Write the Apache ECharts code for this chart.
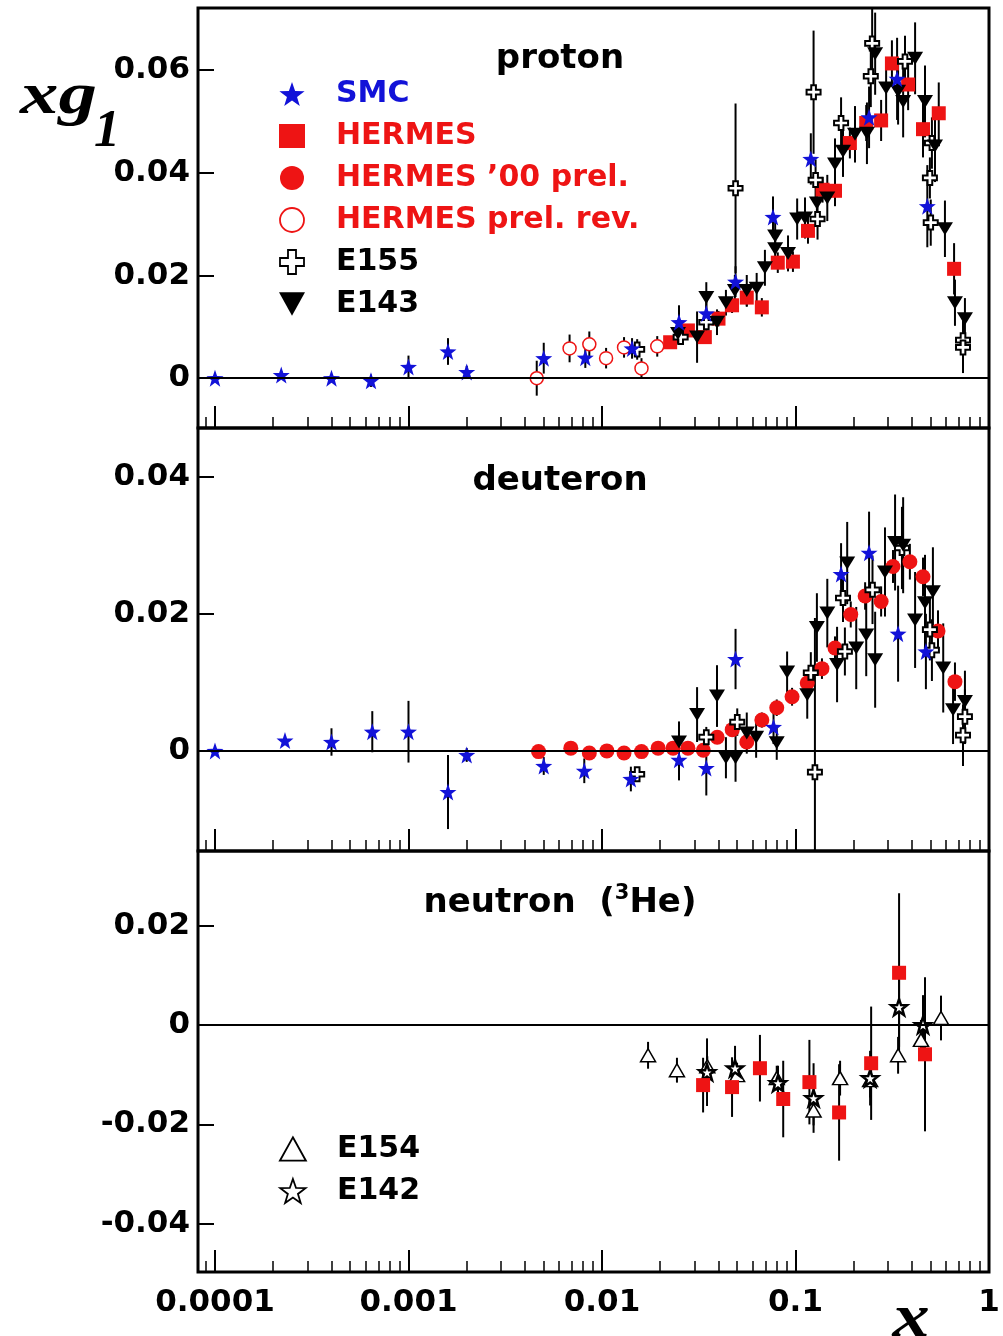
<!DOCTYPE html>
<html>
<head>
<meta charset="utf-8">
<script src="https://cdn.jsdelivr.net/npm/echarts@6/dist/echarts.min.js"></script>
<style>
  html, body { margin: 0; padding: 0; background: #fff; }
  #chart { width: 1003px; height: 1336px; }
</style>
</head>
<body>
<div id="chart"></div>
<script>
// xg1 structure-function data: each point is [x, xg1, stat. error]

// ---- proton ----
const protonSMC = [
  [0.0001, 0.0000, 0.0006], [0.00022, 0.0006, 0.0008], [0.0004, 0.0000, 0.0008],
  [0.00064, -0.0005, 0.0012], [0.001, 0.0022, 0.0022], [0.0016, 0.0052, 0.0026],
  [0.002, 0.0012, 0.0012], [0.005, 0.0039, 0.0030], [0.0082, 0.0040, 0.0020],
  [0.0143, 0.0058, 0.0020], [0.025, 0.0109, 0.0033], [0.0346, 0.0126, 0.0025],
  [0.049, 0.0188, 0.0030], [0.0765, 0.0314, 0.0040], [0.12, 0.0427, 0.0050],
  [0.24, 0.0508, 0.0060], [0.335, 0.0583, 0.0080], [0.48, 0.0335, 0.0080]
];
const protonHERMES = [
  [0.0225, 0.0070, 0.0010], [0.0278, 0.0093, 0.0012], [0.034, 0.0080, 0.0012],
  [0.040, 0.0116, 0.0015], [0.047, 0.0142, 0.0015], [0.056, 0.0157, 0.0018],
  [0.067, 0.0138, 0.0018], [0.081, 0.0225, 0.0020], [0.097, 0.0227, 0.0020],
  [0.116, 0.0287, 0.0025], [0.138, 0.0367, 0.0025], [0.16, 0.0365, 0.0030],
  [0.191, 0.0458, 0.0030], [0.232, 0.0497, 0.0035], [0.277, 0.0502, 0.0040],
  [0.315, 0.0613, 0.0045], [0.382, 0.0572, 0.0050], [0.456, 0.0485, 0.0055],
  [0.55, 0.0516, 0.0060], [0.66, 0.0213, 0.0050]
];
const protonPrelRev = [
  [0.0046, 0.0000, 0.0034], [0.0068, 0.0058, 0.0027], [0.0086, 0.0066, 0.0025],
  [0.0105, 0.0039, 0.0020], [0.013, 0.0060, 0.0020], [0.016, 0.0019, 0.0020],
  [0.0193, 0.0062, 0.0020]
];
const protonE155 = [
  [0.0152, 0.0056, 0.0020], [0.0255, 0.0080, 0.0015], [0.0346, 0.0109, 0.0020],
  [0.049, 0.0370, 0.0165], [0.124, 0.0557, 0.0120], [0.127, 0.0386, 0.0040],
  [0.13, 0.0310, 0.0040], [0.172, 0.0497, 0.0050], [0.249, 0.0652, 0.0070],
  [0.245, 0.0588, 0.0060], [0.368, 0.0617, 0.0050], [0.507, 0.0458, 0.0050],
  [0.495, 0.0390, 0.0040], [0.50, 0.0303, 0.0045], [0.734, 0.0074, 0.0040],
  [0.734, 0.0060, 0.0050]
];
const protonE143 = [
  [0.0247, 0.0087, 0.0020], [0.031, 0.0080, 0.0050], [0.0346, 0.0157, 0.0030],
  [0.0393, 0.0109, 0.0025], [0.0437, 0.0147, 0.0025], [0.0486, 0.0171, 0.0030],
  [0.056, 0.0171, 0.0030], [0.063, 0.0175, 0.0030], [0.0695, 0.0215, 0.0035],
  [0.0785, 0.0277, 0.0035], [0.0785, 0.0252, 0.0035], [0.0915, 0.0243, 0.0035],
  [0.102, 0.0310, 0.0040], [0.112, 0.0312, 0.0040], [0.129, 0.0341, 0.0045],
  [0.146, 0.0351, 0.0045], [0.16, 0.0417, 0.0050], [0.176, 0.0442, 0.0050],
  [0.203, 0.0475, 0.0055], [0.234, 0.0477, 0.0060], [0.258, 0.0632, 0.0080],
  [0.294, 0.0565, 0.0060], [0.339, 0.0559, 0.0065], [0.36, 0.0539, 0.0070],
  [0.415, 0.0623, 0.0070], [0.467, 0.0539, 0.0070], [0.526, 0.0452, 0.0070],
  [0.592, 0.0291, 0.0055], [0.667, 0.0147, 0.0045], [0.751, 0.0116, 0.0040]
];

// ---- deuteron ----
const deuteronSMC = [
  [0.0001, 0.0000, 0.0005], [0.00023, 0.0015, 0.0006], [0.0004, 0.0013, 0.0020],
  [0.00065, 0.0028, 0.0030], [0.001, 0.0028, 0.0045], [0.0016, -0.0060, 0.0054],
  [0.002, -0.0006, 0.0010], [0.005, -0.0022, 0.0013], [0.0081, -0.0029, 0.0018],
  [0.0141, -0.0041, 0.0018], [0.025, -0.0013, 0.0030], [0.0346, -0.0025, 0.0040],
  [0.049, 0.0134, 0.0044], [0.077, 0.0035, 0.0025], [0.172, 0.0258, 0.0045],
  [0.24, 0.0289, 0.0060], [0.339, 0.0171, 0.0070], [0.472, 0.0145, 0.0055]
];
const deuteronPrel = [
  [0.0047, -0.0001, 0.0007], [0.0069, 0.0004, 0.0007], [0.0086, -0.0003, 0.0007],
  [0.0106, 0.0000, 0.0006], [0.013, -0.0003, 0.0006], [0.016, -0.0001, 0.0006],
  [0.0195, 0.0004, 0.0006], [0.0233, 0.0004, 0.0006], [0.0278, 0.0004, 0.0007],
  [0.0334, 0.0001, 0.0007], [0.0394, 0.0020, 0.0008], [0.0471, 0.0031, 0.0009],
  [0.056, 0.0013, 0.0010], [0.067, 0.0045, 0.0011], [0.08, 0.0063, 0.0012],
  [0.096, 0.0079, 0.0013], [0.115, 0.0099, 0.0014], [0.137, 0.0120, 0.0015],
  [0.16, 0.0150, 0.0017], [0.193, 0.0199, 0.0019], [0.229, 0.0226, 0.0020],
  [0.277, 0.0218, 0.0022], [0.319, 0.0269, 0.0024], [0.39, 0.0276, 0.0026],
  [0.456, 0.0254, 0.0028], [0.545, 0.0175, 0.0030], [0.667, 0.0101, 0.0028]
];
const deuteronE155 = [
  [0.0152, -0.0034, 0.0010], [0.0346, 0.0020, 0.0015], [0.050, 0.0042, 0.0020],
  [0.12, 0.0114, 0.0030], [0.126, -0.0031, 0.0225], [0.176, 0.0223, 0.0035],
  [0.18, 0.0145, 0.0035], [0.25, 0.0235, 0.0050], [0.355, 0.0296, 0.0060],
  [0.495, 0.0177, 0.0045], [0.507, 0.0147, 0.0045], [0.751, 0.0050, 0.0040],
  [0.734, 0.0023, 0.0045]
];
const deuteronE143 = [
  [0.025, 0.0013, 0.0030], [0.031, 0.0053, 0.0040], [0.0393, 0.0080, 0.0045],
  [0.0437, -0.0010, 0.0030], [0.049, -0.0010, 0.0035], [0.056, 0.0026, 0.0030],
  [0.0626, 0.0020, 0.0030], [0.08, 0.0012, 0.0025], [0.0905, 0.0115, 0.0030],
  [0.115, 0.0082, 0.0035], [0.129, 0.0180, 0.0050], [0.146, 0.0201, 0.0050],
  [0.164, 0.0126, 0.0055], [0.185, 0.0274, 0.0060], [0.206, 0.0150, 0.0060],
  [0.232, 0.0169, 0.0060], [0.258, 0.0133, 0.0070], [0.29, 0.0261, 0.0065],
  [0.327, 0.0304, 0.0070], [0.36, 0.0300, 0.0070], [0.415, 0.0191, 0.0070],
  [0.467, 0.0216, 0.0070], [0.513, 0.0232, 0.0065], [0.58, 0.0121, 0.0065],
  [0.652, 0.0060, 0.0050], [0.751, 0.0072, 0.0045]
];

// ---- neutron (3He) ----
const neutronHERMES = [
  [0.0333, -0.0121, 0.0055], [0.047, -0.0125, 0.0060], [0.0655, -0.0087, 0.0067],
  [0.0864, -0.0149, 0.0077], [0.118, -0.0115, 0.0085], [0.168, -0.0176, 0.0097],
  [0.246, -0.0077, 0.0114], [0.343, 0.0105, 0.0160], [0.467, -0.0059, 0.0155]
];
const neutronE154 = [
  [0.0173, -0.0061, 0.0027], [0.0244, -0.0091, 0.0025], [0.035, -0.0083, 0.0020],
  [0.0499, -0.0101, 0.0025], [0.08, -0.0107, 0.0025], [0.124, -0.0172, 0.0030],
  [0.17, -0.0107, 0.0035], [0.243, -0.0111, 0.0035], [0.339, -0.0061, 0.0037],
  [0.445, -0.0030, 0.0040], [0.565, 0.0014, 0.0045]
];
const neutronE142 = [
  [0.0349, -0.0095, 0.0068], [0.0487, -0.0087, 0.0045], [0.0812, -0.0117, 0.0035],
  [0.124, -0.0147, 0.0070], [0.243, -0.0107, 0.0055], [0.343, 0.0036, 0.0080],
  [0.456, 0.0000, 0.0060]
];

// axis ticks and labels
const xMajorTicks = [0.0001, 0.001, 0.01, 0.1, 1];
const xMinorTicks = [0.00009].concat(
  xMajorTicks.slice(0, -1).flatMap(d => [2, 3, 4, 5, 6, 7, 8, 9].map(k => +(k * d).toPrecision(3)))
);
const yTicksProton = [0, 0.02, 0.04, 0.06];
const yTicksDeuteron = [0, 0.02, 0.04];
const yTicksNeutron = [-0.04, -0.02, 0, 0.02];

const panelTitles = ['proton', 'deuteron', '{a|neutron  (}{s|3}{a|He)}'];

// ---- styling ----
const BLUE = '#1212d8';
const RED = '#ee1414';
const STAR = 'path://M0,-10L2.35,-3.24L9.51,-3.09L3.8,1.24L5.88,8.09L0,4L-5.88,8.09L-3.8,1.24L-9.51,-3.09L-2.35,-3.24Z';
const CROSS = 'path://M-1,-3L1,-3L1,-1L3,-1L3,1L1,1L1,3L-1,3L-1,1L-3,1L-3,-1L-1,-1Z';
const TRI_DOWN = 'path://M0,0L10,0L5,9Z';
const TRI_UP = 'path://M5,0L10,9L0,9Z';

const markerStyles = {
  'SMC': { symbol: STAR, symbolSize: 17, itemStyle: { color: BLUE, opacity: 1 } },
  'HERMES': { symbol: 'rect', symbolSize: 14, itemStyle: { color: RED, opacity: 1 } },
  'HERMES \u201900 prel.': { symbol: 'circle', symbolSize: 15, itemStyle: { color: RED, opacity: 1 } },
  'HERMES prel. rev.': { symbol: 'circle', symbolSize: 13, itemStyle: { color: '#fff', borderColor: RED, borderWidth: 1.5, opacity: 1 } },
  'E155': { symbol: CROSS, symbolSize: 14, itemStyle: { color: '#fff', borderColor: '#000', borderWidth: 2, opacity: 1 } },
  'E143': { symbol: TRI_DOWN, symbolSize: [16, 13], itemStyle: { color: '#000', opacity: 1 } },
  'E154': { symbol: TRI_UP, symbolSize: [15, 13], itemStyle: { color: '#fff', borderColor: '#000', borderWidth: 1.5, opacity: 1 } },
  'E142': { symbol: STAR, symbolSize: 16, itemStyle: { color: '#fff', borderColor: '#000', borderWidth: 2.5, opacity: 1 } }
};

const panels = [
  { top: 8, height: 420, ymin: -0.0097, ymax: 0.0721, yTicks: yTicksProton, titleY: 59,
    sets: [['HERMES', protonHERMES], ['HERMES prel. rev.', protonPrelRev], ['E155', protonE155],
           ['E143', protonE143], ['SMC', protonSMC]] },
  { top: 428, height: 423, ymin: -0.0146, ymax: 0.0471, yTicks: yTicksDeuteron, titleY: 481,
    sets: [['HERMES \u201900 prel.', deuteronPrel], ['E155', deuteronE155],
           ['E143', deuteronE143], ['SMC', deuteronSMC]] },
  { top: 851, height: 421, ymin: -0.0497, ymax: 0.035, yTicks: yTicksNeutron, titleY: 903,
    sets: [['E154', neutronE154], ['E142', neutronE142], ['HERMES', neutronHERMES]] }
];

const GRID_LEFT = 198, GRID_WIDTH = 791;
const X_MIN = 0.0000817, X_MAX = 1;
const TICK_FONT = { fontFamily: 'DejaVu Sans', fontWeight: 'bold', fontSize: 31, color: '#000' };

const grid = [], xAxis = [], yAxis = [], series = [];

panels.forEach((p, i) => {
  grid.push({ left: GRID_LEFT, width: GRID_WIDTH, top: p.top, height: p.height,
              show: true, borderColor: '#000', borderWidth: 3, backgroundColor: 'transparent' });

  // decade ticks (with labels on the lowest panel)
  xAxis.push({
    type: 'log', logBase: 10, gridIndex: i, min: X_MIN, max: X_MAX, position: 'bottom',
    axisLine: { show: false, onZero: false }, splitLine: { show: false },
    axisTick: { inside: true, length: 22, lineStyle: { color: '#000', width: 2 }, customValues: xMajorTicks },
    axisLabel: i === 2
      ? Object.assign({ show: true, margin: 15, customValues: xMajorTicks, formatter: v => String(v) }, TICK_FONT)
      : { show: false }
  });
  // sub-decade ticks
  xAxis.push({
    type: 'log', logBase: 10, gridIndex: i, min: X_MIN, max: X_MAX, position: 'bottom',
    axisLine: { show: false, onZero: false }, splitLine: { show: false },
    axisTick: { inside: true, length: 11, lineStyle: { color: '#000', width: 1.5 }, customValues: xMinorTicks },
    axisLabel: { show: false }
  });

  yAxis.push({
    type: 'value', gridIndex: i, min: p.ymin, max: p.ymax,
    axisLine: { show: false, onZero: false }, splitLine: { show: false },
    axisTick: { inside: true, length: 16, lineStyle: { color: '#000', width: 2 }, customValues: p.yTicks },
    axisLabel: Object.assign({ margin: 8, padding: [4, 0, 0, 0], customValues: p.yTicks,
      formatter: v => (v === 0 ? '0' : v.toFixed(2)) }, TICK_FONT)
  });

  // vertical error bars for every point of the panel
  const errData = [];
  p.sets.forEach(([, d]) => d.forEach(pt => errData.push(pt)));
  series.push({
    type: 'custom', xAxisIndex: i * 2, yAxisIndex: i, silent: true, clip: true, z: 2,
    data: errData,
    encode: { x: 0, y: 1 },
    renderItem: (params, api) => {
      const x = api.value(0), y = api.value(1), e = api.value(2);
      const a = api.coord([x, y - e]);
      const b = api.coord([x, y + e]);
      return { type: 'line', shape: { x1: a[0], y1: a[1], x2: b[0], y2: b[1] },
               style: { stroke: '#000', lineWidth: 2 } };
    },
    markLine: {
      silent: true, symbol: 'none', label: { show: false },
      lineStyle: { color: '#000', width: 2, type: 'solid' },
      data: [{ yAxis: 0 }]
    }
  });

  // markers
  p.sets.forEach(([name, d]) => {
    series.push(Object.assign({
      type: 'scatter', name: name, xAxisIndex: i * 2, yAxisIndex: i, z: 3,
      data: d.map(pt => [pt[0], pt[1]])
    }, markerStyles[name]));
  });
});

const legendBase = {
  orient: 'vertical', left: 274, itemWidth: 26, itemHeight: 24, itemGap: 12, selectedMode: false,
  itemStyle: { borderWidth: 1.8 },
  textStyle: { fontFamily: 'DejaVu Sans', fontWeight: 'bold', fontSize: 30, color: '#000',
               lineHeight: 30, padding: [0, 0, 0, 26] }
};

const option = {
  animation: false,
  backgroundColor: '#fff',
  grid, xAxis, yAxis, series,
  legend: [
    Object.assign({}, legendBase, {
      top: 74,
      data: [
        { name: 'SMC', textStyle: { color: BLUE } },
        { name: 'HERMES', textStyle: { color: RED } },
        { name: 'HERMES \u201900 prel.', textStyle: { color: RED } },
        { name: 'HERMES prel. rev.', textStyle: { color: RED } },
        { name: 'E155' },
        { name: 'E143' }
      ]
    }),
    Object.assign({}, legendBase, { top: 1129, data: [{ name: 'E154' }, { name: 'E142' }] })
  ],
  graphic: [
    ...panels.map((p, i) => ({
      type: 'text', x: 560, y: p.titleY, z: 10,
      style: {
        text: panelTitles[i], align: 'center', verticalAlign: 'middle',
        textAlign: 'center', textVerticalAlign: 'middle',
        font: 'bold 34px "DejaVu Sans"', fill: '#000',
        rich: {
          a: { fontFamily: 'DejaVu Sans', fontWeight: 'bold', fontSize: 34, lineHeight: 40 },
          s: { fontFamily: 'DejaVu Sans', fontWeight: 'bold', fontSize: 21, lineHeight: 24, verticalAlign: 'top' }
        }
      }
    })),
    { type: 'text', x: 20, y: 97, z: 10, scaleX: 1.28,
      style: { text: 'xg', font: 'italic bold 60px "Liberation Serif"', fill: '#000',
               verticalAlign: 'middle', textVerticalAlign: 'middle' } },
    { type: 'text', x: 94, y: 133, z: 10,
      style: { text: '1', font: 'italic bold 52px "Liberation Serif"', fill: '#000',
               verticalAlign: 'middle', textVerticalAlign: 'middle' } },
    { type: 'text', x: 911, y: 1320, z: 10, scaleX: 1.2,
      style: { text: 'x', font: 'italic bold 62px "Liberation Serif"', fill: '#000',
               align: 'center', textAlign: 'center', verticalAlign: 'middle', textVerticalAlign: 'middle' } }
  ]
};

const chart = echarts.init(document.getElementById('chart'), null, { renderer: 'canvas' });
chart.setOption(option);
</script>
</body>
</html>
